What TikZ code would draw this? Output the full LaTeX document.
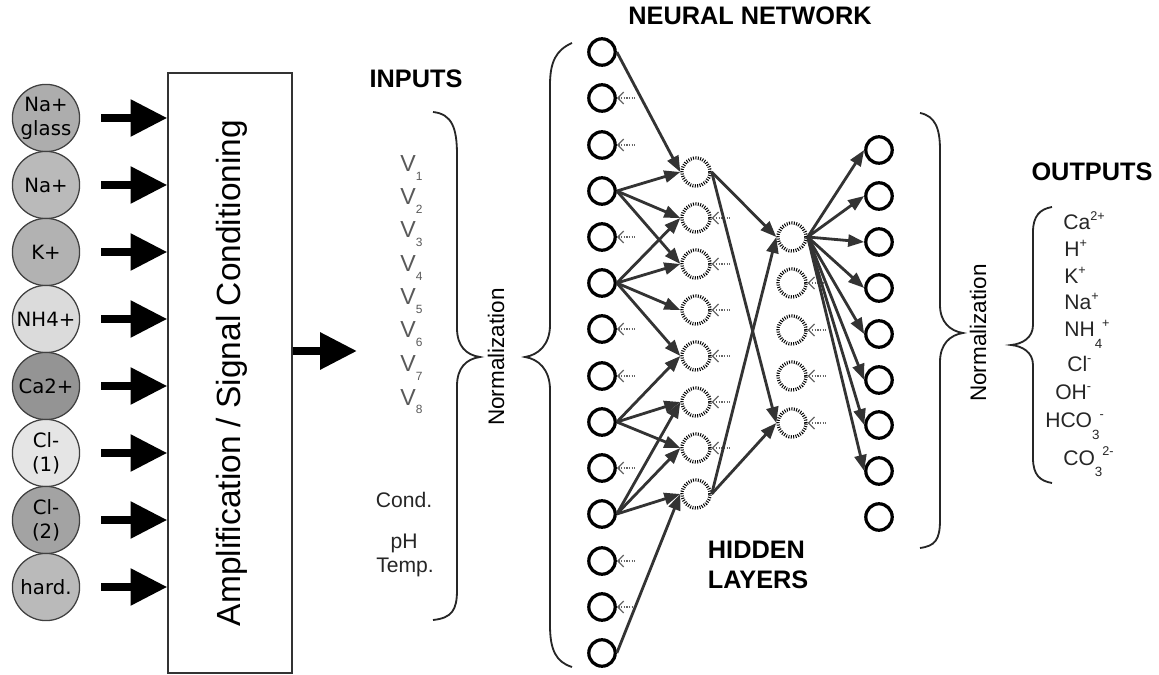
\documentclass[tikz,border=0pt]{standalone}
\usepackage{fontspec}
\setmainfont{Liberation Sans}
\newfontfamily\ionfont{DejaVu Sans}
\usepackage{tikz}
\usetikzlibrary{arrows.meta}
\newcommand{\vsub}[1]{\raisebox{-6pt}{\fontsize{8.5}{8.5}\selectfont #1}}
\newcommand{\ionup}[1]{\raisebox{7pt}{\fontsize{9}{9}\selectfont #1}}
\newcommand{\iondn}[1]{\raisebox{-8pt}{\fontsize{9.5}{9.5}\selectfont #1}}

\tikzset{
	sensor/.style={circle, draw=black!75, line width=0.9pt, minimum size=1.68cm, inner sep=0pt, align=center, font=\ionfont\fontsize{14}{17}\selectfont},
	fatarrow/.style={line width=0.2cm, -{Triangle[length=0.92cm, width=0.88cm]}},
	ampbox/.style={draw=black!80, line width=0.9pt, minimum width=3.1cm, minimum height=15cm, inner sep=0pt},
	inneuron/.style={circle, draw, line width=2.3pt, minimum size=0.66cm, inner sep=0pt},
	hidneuron/.style={circle, draw, line width=2.4pt, dash pattern=on 0.7pt off 1pt, minimum size=0.7cm, inner sep=0pt},
	link/.style={black!80, line width=2pt, -{Triangle[length=0.4cm, width=0.3cm]}},
	bias/.style={black!60, line width=0.9pt, densely dotted, {Straight Barb[length=0.15cm, width=0.3cm]}-},
	title/.style={font=\bfseries\fontsize{18}{20}\selectfont},
	lbl/.style={font=\fontsize{15}{18}\selectfont, inner sep=0pt},
	vlbl/.style={black!65, anchor=base west, font=\fontsize{16.5}{18}\selectfont, inner sep=0pt},
	brace/.style={line width=1.3pt, black!85},
}

\begin{document}
\begin{tikzpicture}[x=0.025cm, y=-0.025cm]
			%%%%% START %%%%%
			\useasboundingbox (0,0) rectangle (1159,675);
			
			% sensors
			\node[sensor, fill=black!32] (nag) at (46,118) {Na+\\glass};
			\node[sensor, fill=black!27] (na) at (46,185) {Na+};
			\node[sensor, fill=black!30] (k) at (46,252) {K+};
			\node[sensor, fill=black!14] (nh) at (46,319) {NH4+};
			\node[sensor, fill=black!42] (ca) at (46,386) {Ca2+};
			\node[sensor, fill=black!10] (cla) at (46,453) {Cl-\\(1)};
			\node[sensor, fill=black!36] (clb) at (46,520) {Cl-\\(2)};
			\node[sensor, fill=black!27] (hard) at (46,587) {hard.};
			
			\node[ampbox] (amp) at (230,373) {};
			\node[rotate=90, inner sep=0pt, font=\fontsize{23.8}{28}\selectfont] (amptext) at (232,373) {Amplification / Signal Conditioning};
			
			\draw[fatarrow, shorten <=0.52cm] (nag) -- (nag -| amp.west);
			\draw[fatarrow, shorten <=0.52cm] (na) -- (na -| amp.west);
			\draw[fatarrow, shorten <=0.52cm] (k) -- (k -| amp.west);
			\draw[fatarrow, shorten <=0.52cm] (nh) -- (nh -| amp.west);
			\draw[fatarrow, shorten <=0.52cm] (ca) -- (ca -| amp.west);
			\draw[fatarrow, shorten <=0.52cm] (cla) -- (cla -| amp.west);
			\draw[fatarrow, shorten <=0.52cm] (clb) -- (clb -| amp.west);
			\draw[fatarrow, shorten <=0.52cm] (hard) -- (hard -| amp.west);
			
			\coordinate (feed) at (357,351);
			\draw[fatarrow] (feed -| amp.east) -- (feed);
			
			% inputs
			\node[title] (inputs) at (416,79) {INPUTS};
			\node[vlbl] (v1) at (400,172) {V\vsub{1}};
			\node[vlbl] (v2) at (400,205) {V\vsub{2}};
			\node[vlbl] (v3) at (400,238) {V\vsub{3}};
			\node[vlbl] (v4) at (400,272) {V\vsub{4}};
			\node[vlbl] (v5) at (400,305) {V\vsub{5}};
			\node[vlbl] (v6) at (400,338) {V\vsub{6}};
			\node[vlbl] (v7) at (400,372) {V\vsub{7}};
			\node[vlbl] (v8) at (400,405) {V\vsub{8}};
			\node[lbl, black!85, anchor=base] (cond) at (404,507) {Cond.};
			\node[lbl, black!85, anchor=base] (ph) at (404,548) {pH};
			\node[lbl, black!85, anchor=base] (temp) at (405,572) {Temp.};
			
			\draw[brace] (433,112) .. controls (452,114) and (457,128) .. (457,155) -- (457,328) .. controls (457,346) and (466,355) .. (480,357) .. controls (466,359) and (457,368) .. (457,386) -- (457,590) .. controls (457,610) and (452,618) .. (433,620);
			\node[lbl, rotate=90, font=\fontsize{16}{18}\selectfont] (normin) at (496,357) {Normalization};
			\draw[brace] (572,43) .. controls (556,50) and (550,62) .. (550,85) -- (550,325) .. controls (550,345) and (538,355) .. (525,357) .. controls (538,359) and (550,369) .. (550,390) -- (550,625) .. controls (550,650) and (556,662) .. (572,667);
			
			% network
			\node[title] (nettitle) at (750,16) {NEURAL NETWORK};
			
			\node[inneuron] (in1) at (602,52) {};
			\node[inneuron] (in2) at (602,98) {};
			\node[inneuron] (in3) at (602,145) {};
			\node[inneuron] (in4) at (602,191) {};
			\node[inneuron] (in5) at (602,237) {};
			\node[inneuron] (in6) at (602,283) {};
			\node[inneuron] (in7) at (602,329) {};
			\node[inneuron] (in8) at (602,376) {};
			\node[inneuron] (in9) at (602,422) {};
			\node[inneuron] (in10) at (602,468) {};
			\node[inneuron] (in11) at (602,514) {};
			\node[inneuron] (in12) at (602,561) {};
			\node[inneuron] (in13) at (602,607) {};
			\node[inneuron] (in14) at (602,653) {};
			
			\node[hidneuron] (hid1) at (696,172) {};
			\node[hidneuron] (hid2) at (696,218) {};
			\node[hidneuron] (hid3) at (696,264) {};
			\node[hidneuron] (hid4) at (696,310) {};
			\node[hidneuron] (hid5) at (696,356) {};
			\node[hidneuron] (hid6) at (696,402) {};
			\node[hidneuron] (hid7) at (696,448) {};
			\node[hidneuron] (hid8) at (696,494) {};
			
			\node[hidneuron] (hidb1) at (792,237) {};
			\node[hidneuron] (hidb2) at (792,283) {};
			\node[hidneuron] (hidb3) at (792,330) {};
			\node[hidneuron] (hidb4) at (792,376) {};
			\node[hidneuron] (hidb5) at (792,423) {};
			
			\node[inneuron] (out1) at (879,150) {};
			\node[inneuron] (out2) at (879,196) {};
			\node[inneuron] (out3) at (879,242) {};
			\node[inneuron] (out4) at (879,288) {};
			\node[inneuron] (out5) at (879,334) {};
			\node[inneuron] (out6) at (879,380) {};
			\node[inneuron] (out7) at (879,425) {};
			\node[inneuron] (out8) at (879,471) {};
			\node[inneuron] (out9) at (879,517) {};
			
			\draw[bias] (in2.east) -- ++(18,0);
			\draw[bias] (in3.east) -- ++(18,0);
			\draw[bias] (in5.east) -- ++(18,0);
			\draw[bias] (in7.east) -- ++(18,0);
			\draw[bias] (in8.east) -- ++(18,0);
			\draw[bias] (in10.east) -- ++(18,0);
			\draw[bias] (in12.east) -- ++(18,0);
			\draw[bias] (in13.east) -- ++(18,0);
			\draw[bias] (hid2.east) -- ++(18,0);
			\draw[bias] (hid3.east) -- ++(18,0);
			\draw[bias] (hid4.east) -- ++(18,0);
			\draw[bias] (hid5.east) -- ++(18,0);
			\draw[bias] (hid6.east) -- ++(18,0);
			\draw[bias] (hid7.east) -- ++(18,0);
			\draw[bias] (hidb2.east) -- ++(18,0);
			\draw[bias] (hidb3.east) -- ++(18,0);
			\draw[bias] (hidb4.east) -- ++(18,0);
			\draw[bias] (hidb5.east) -- ++(18,0);
			
			\draw[link] (in1.east) -- (hid1.west);
			\draw[link] (in4.east) -- (hid1.west);
			\draw[link] (in4.east) -- (hid2.west);
			\draw[link] (in4.east) -- (hid3.west);
			\draw[link] (in6.east) -- (hid2.west);
			\draw[link] (in6.east) -- (hid3.west);
			\draw[link] (in6.east) -- (hid4.west);
			\draw[link] (in6.east) -- (hid5.west);
			\draw[link] (in9.east) -- (hid5.west);
			\draw[link] (in9.east) -- (hid6.west);
			\draw[link] (in9.east) -- (hid7.west);
			\draw[link] (in11.east) -- (hid6.west);
			\draw[link] (in11.east) -- (hid7.west);
			\draw[link] (in11.east) -- (hid8.west);
			\draw[link] (in14.east) -- (hid8.west);
			
			\draw[link] (hid1.east) -- (hidb1.west);
			\draw[link] (hid1.east) -- (hidb5.west);
			\draw[link] (hid8.east) -- (hidb1.west);
			\draw[link] (hid8.east) -- (hidb5.west);
			
			\draw[link] (hidb1.east) -- (out1.west);
			\draw[link] (hidb1.east) -- (out2.west);
			\draw[link] (hidb1.east) -- (out3.west);
			\draw[link] (hidb1.east) -- (out4.west);
			\draw[link] (hidb1.east) -- (out5.west);
			\draw[link] (hidb1.east) -- (out6.west);
			\draw[link] (hidb1.east) -- (out7.west);
			\draw[link] (hidb1.east) -- (out8.west);
			
			\node[title, anchor=west] (hidden) at (703,550) {HIDDEN};
			\node[title, anchor=west] (layers) at (703,580) {LAYERS};
			
			% outputs
			\draw[brace] (920,113) .. controls (935,116) and (940,128) .. (940,150) -- (940,305) .. controls (940,322) and (950,331) .. (963,333) .. controls (950,335) and (940,344) .. (940,362) -- (940,520) .. controls (940,540) and (935,546) .. (920,548);
			\node[lbl, rotate=90, font=\fontsize{16}{18}\selectfont] (normout) at (978,333) {Normalization};
			\draw[brace] (1052,207) .. controls (1040,209) and (1033,216) .. (1033,232) -- (1033,325) .. controls (1033,338) and (1022,344) .. (1011,345) .. controls (1022,346) and (1033,352) .. (1033,365) -- (1033,458) .. controls (1033,475) and (1040,481) .. (1052,483);
			
			\node[title] (outputs) at (1092,172) {OUTPUTS};
			\node[lbl, black!85, anchor=base west] (ca2) at (1063,230) {Ca\ionup{2+}};
			\node[lbl, black!85, anchor=base west] (hplus) at (1064,257) {H\ionup{+}};
			\node[lbl, black!85, anchor=base west] (kplus) at (1064,284) {K\ionup{+}};
			\node[lbl, black!85, anchor=base west] (naplus) at (1064,310) {Na\ionup{+}};
			\node[lbl, black!85, anchor=base west] (nh4) at (1064,337) {NH\iondn{4}\ionup{+}};
			\node[lbl, black!85, anchor=base west] (clminus) at (1067,372) {Cl\ionup{-}};
			\node[lbl, black!85, anchor=base west] (ohminus) at (1055,400) {OH\ionup{-}};
			\node[lbl, black!85, anchor=base west] (hco3) at (1045,428) {HCO\iondn{3}\ionup{-}};
			\node[lbl, black!85, anchor=base west] (co3) at (1063,465) {CO\iondn{3}\ionup{2-}};
			
			%%%%% END %%%%%
\end{tikzpicture}
\end{document}
